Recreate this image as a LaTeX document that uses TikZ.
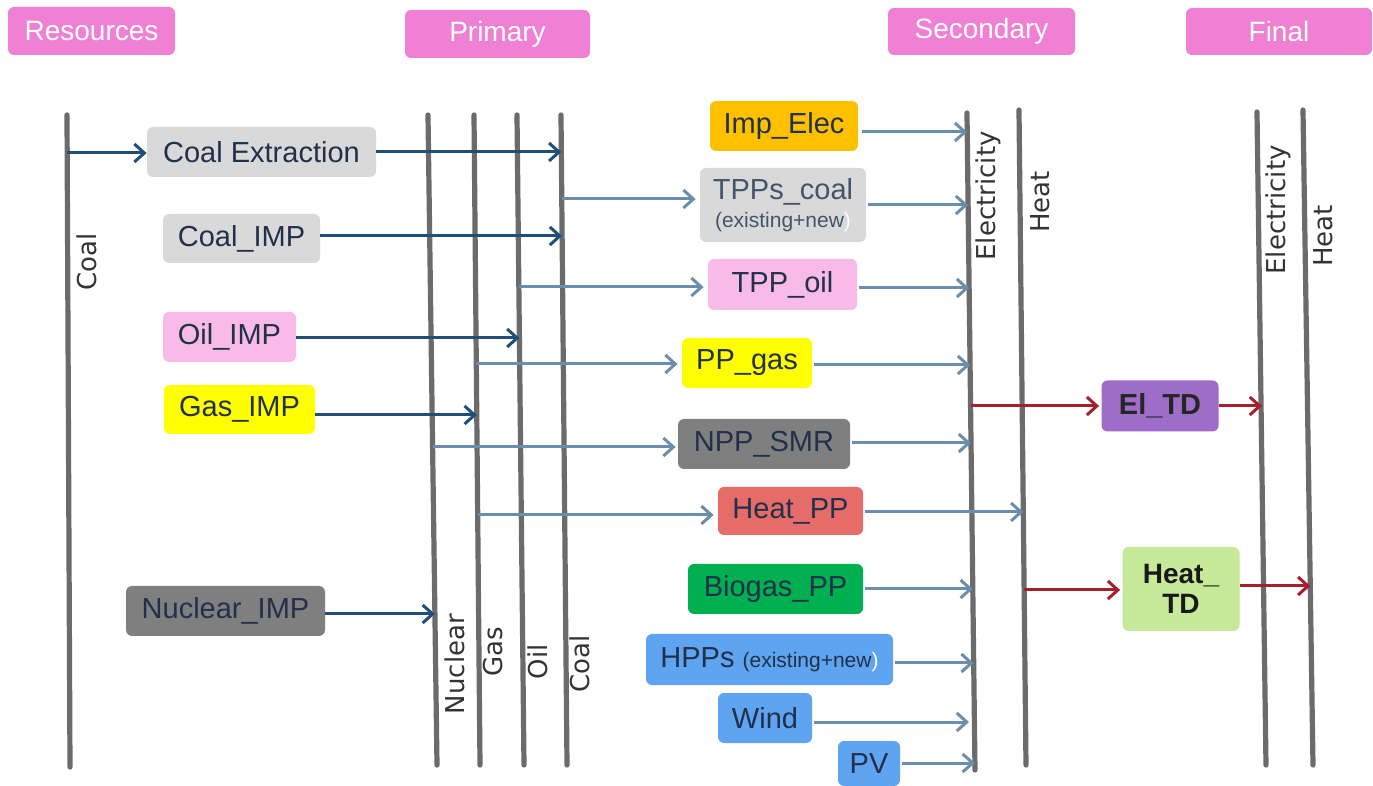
\documentclass[tikz,border=0pt]{standalone}
\usepackage{fontspec}
\setmainfont{Liberation Sans}
\newfontfamily\labfont{DejaVu Sans}
\usetikzlibrary{arrows.meta,calc}
\definecolor{hdrpink}{HTML}{EF80D4}
\definecolor{barcol}{HTML}{6B6B6B}
\definecolor{navyc}{HTML}{1F4E79}
\definecolor{slatec}{HTML}{6C8EAD}
\definecolor{redc}{HTML}{A5202A}
\definecolor{lgray}{HTML}{D9D9D9}
\definecolor{lpink}{HTML}{F8BAE8}
\definecolor{yell}{HTML}{FFFF00}
\definecolor{dgray}{HTML}{7F7F7F}
\definecolor{orng}{HTML}{FFC000}
\definecolor{salm}{HTML}{E56C69}
\definecolor{grn}{HTML}{00B050}
\definecolor{blu}{HTML}{5EA4F0}
\definecolor{purp}{HTML}{9D6DC9}
\definecolor{lgrn}{HTML}{C6EA9A}
\definecolor{boxtext}{HTML}{22304A}
\definecolor{slatetext}{HTML}{44546A}
\definecolor{labcol}{HTML}{333333}
\begin{document}
\begin{tikzpicture}[x=0.5pt,y=-0.5pt,
  bar/.style={line width=2.6pt,draw=barcol,line cap=round},
  sz/.style n args={2}{minimum width=#1*0.5pt,minimum height=#2*0.5pt},
  box/.style={rounded corners=3pt,inner sep=0pt,align=center,text=boxtext,font=\fontsize{14.5}{17}\selectfont},
  hdr/.style={rounded corners=3pt,fill=hdrpink,text=white,inner sep=0pt,font=\fontsize{14}{16}\selectfont},
  lab/.style={rotate=90,inner sep=0pt,text=labcol,font=\labfont\fontsize{13}{15}\selectfont},
  anavy/.style={line width=1.5pt,draw=navyc,-{Straight Barb[length=5pt,width=9pt]}},
  aslate/.style={line width=1.5pt,draw=slatec,-{Straight Barb[length=5pt,width=9pt]}},
  ared/.style={line width=1.5pt,draw=redc,-{Straight Barb[length=5pt,width=9pt]}}
]
\useasboundingbox (0,0) rectangle (1373,786);

% headers
\node[hdr,sz={167}{48}] (hres) at (91.5,31) {Resources};
\node[hdr,sz={185}{48}] (hprim) at (497.5,34) {Primary};
\node[hdr,sz={187}{47}] (hsec) at (981.5,31.5) {Secondary};
\node[hdr,sz={186}{47}] (hfin) at (1279,31.5) {Final};

% bars
\coordinate (cRt) at (67,115);   \coordinate (cRb) at (70,767);
\coordinate (nuT) at (428,115);  \coordinate (nuB) at (437,765);
\coordinate (gaT) at (474,115);  \coordinate (gaB) at (480,765);
\coordinate (oiT) at (517,115);  \coordinate (oiB) at (524,765);
\coordinate (coT) at (561,115);  \coordinate (coB) at (567,765);
\coordinate (elT) at (967,113);  \coordinate (elB) at (975,770);
\coordinate (heT) at (1019,110); \coordinate (heB) at (1026,765);
\coordinate (feT) at (1257,112); \coordinate (feB) at (1266,765);
\coordinate (fhT) at (1303,110); \coordinate (fhB) at (1313,765);
\foreach \a/\b in {cRt/cRb,nuT/nuB,gaT/gaB,oiT/oiB,coT/coB,elT/elB,heT/heB,feT/feB,fhT/fhB}
  \draw[bar] (\a) -- (\b);

% bar labels
\node[lab] (lcoalR) at (87,262) {Coal};
\node[lab] (lnuc) at (455,664) {Nuclear};
\node[lab] (lgas) at (493,652) {Gas};
\node[lab] (loil) at (538,662) {Oil};
\node[lab] (lcoalP) at (580,664) {Coal};
\node[lab] (lelec) at (988,196) {Electricity};
\node[lab] (lheat) at (1040,202) {Heat};
\node[lab] (lfelec) at (1278,210) {Electricity};
\node[lab] (lfheat) at (1323,236) {Heat};

% boxes
\node[box,fill=lgray,sz={229}{50}] (coalext) at (261.5,152) {Coal Extraction};
\node[box,fill=lgray,sz={157}{49}] (coalimp) at (241.5,238.5) {Coal\_IMP};
\node[box,fill=lpink,sz={133}{50}] (oilimp) at (229.5,337) {Oil\_IMP};
\node[box,fill=yell,sz={151}{49}] (gasimp) at (239.5,409.5) {Gas\_IMP};
\node[box,fill=dgray,sz={199}{50}] (nucimp) at (225.5,611) {Nuclear\_IMP};
\node[box,fill=orng,sz={148}{50}] (impelec) at (784,126) {Imp\_Elec};
\node[box,fill=lgray,sz={166}{74},text=slatetext] (tppcoal) at (783,205) {TPPs\_coal\\[-3pt]{\fontsize{10.5}{12}\selectfont(existing+new\textcolor{white}{)}}};
\node[box,fill=lpink,sz={149}{51}] (tppoil) at (782.5,284.5) {TPP\_oil};
\node[box,fill=yell,sz={130}{50}] (ppgas) at (747,363) {PP\_gas};
\node[box,fill=dgray,sz={172}{50}] (npp) at (764,444) {NPP\_SMR};
\node[box,fill=salm,sz={145}{48}] (heatpp) at (790.5,511) {Heat\_PP};
\node[box,fill=grn,sz={175}{50}] (biogas) at (775.5,589) {Biogas\_PP};
\node[box,fill=blu,sz={247}{51}] (hpps) at (769.5,659.5) {HPPs {\fontsize{10.5}{12}\selectfont(existing+new\textcolor{white}{)}}};
\node[box,fill=blu,sz={94}{50}] (wind) at (765,718) {Wind};
\node[box,fill=blu,sz={62}{45}] (pv) at (869,763.5) {PV};
\node[box,fill=purp,sz={117}{51},text=black!85,font=\fontsize{14.5}{17}\selectfont\bfseries] (eltd) at (1160,406) {El\_TD};
\node[box,fill=lgrn,sz={117}{84},text=black!90,font=\fontsize{14}{15}\selectfont\bfseries] (heattd) at (1181,589) {Heat\_\\TD};

% arrow end points on bars
\coordinate (aR1) at (67.2,153);
\coordinate (aC1) at (561.3,152);
\coordinate (aC2) at (562.1,236);
\coordinate (aC3) at (561.8,199);
\coordinate (aO1) at (519.4,338);
\coordinate (aO2) at (518.9,287);
\coordinate (aG1) at (476.8,415);
\coordinate (aG2) at (476.3,364);
\coordinate (aG3) at (477.7,515);
\coordinate (aN1) at (434.9,614);
\coordinate (aN2) at (432.6,447);
\coordinate (aE1) at (967.2,132);
\coordinate (aE2) at (968.1,205);
\coordinate (aE3) at (969.1,288);
\coordinate (aE4) at (970.1,365);
\coordinate (aE5) at (971,443);
\coordinate (aE6) at (972.8,589);
\coordinate (aE7) at (973.7,663);
\coordinate (aE8) at (969,722);
\coordinate (aE9) at (974.9,763);
\coordinate (aE10) at (970.6,406);
\coordinate (aH1) at (1023.3,512);
\coordinate (aH2) at (1024.1,590);
\coordinate (aF1) at (1262,406);
\coordinate (aF2) at (1310.3,586);

% navy arrows
\draw[anavy] (aR1) -- (coalext.west |- aR1);
\draw[anavy] (coalext.east |- aC1) -- (aC1);
\draw[anavy] (coalimp.east |- aC2) -- (aC2);
\draw[anavy] (oilimp.east |- aO1) -- (aO1);
\draw[anavy] (gasimp.east |- aG1) -- (aG1);
\draw[anavy] (nucimp.east |- aN1) -- (aN1);

% slate arrows
\draw[aslate] (aC3) -- ([xshift=-2pt]tppcoal.west |- aC3);
\draw[aslate] (aO2) -- ([xshift=-2pt]tppoil.west |- aO2);
\draw[aslate] (aG2) -- ([xshift=-2pt]ppgas.west |- aG2);
\draw[aslate] (aN2) -- ([xshift=-1pt]npp.west |- aN2);
\draw[aslate] (aG3) -- ([xshift=-2pt]heatpp.west |- aG3);
\draw[aslate] ([xshift=2pt]impelec.east |- aE1) -- (aE1);
\draw[aslate] ([xshift=1pt]tppcoal.east |- aE2) -- (aE2);
\draw[aslate] ([xshift=1pt]tppoil.east |- aE3) -- (aE3);
\draw[aslate] ([xshift=1pt]ppgas.east |- aE4) -- (aE4);
\draw[aslate] ([xshift=1pt]npp.east |- aE5) -- (aE5);
\draw[aslate] ([xshift=1pt]heatpp.east |- aH1) -- (aH1);
\draw[aslate] ([xshift=1pt]biogas.east |- aE6) -- (aE6);
\draw[aslate] ([xshift=1pt]hpps.east |- aE7) -- (aE7);
\draw[aslate] ([xshift=1pt]wind.east |- aE8) -- (aE8);
\draw[aslate] ([xshift=1pt]pv.east |- aE9) -- (aE9);

% red arrows
\draw[ared] (aE10) -- ([xshift=-1pt]eltd.west |- aE10);
\draw[ared] (eltd.east |- aF1) -- (aF1);
\draw[ared] (aH2) -- ([xshift=-1pt]heattd.west |- aH2);
\draw[ared] (heattd.east |- aF2) -- (aF2);
\end{tikzpicture}
\end{document}
